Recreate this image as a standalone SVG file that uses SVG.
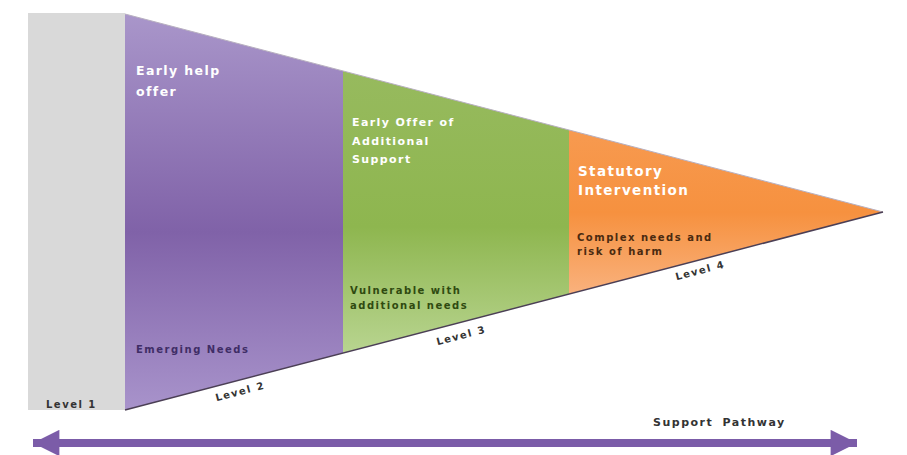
<svg xmlns="http://www.w3.org/2000/svg" width="907" height="455" viewBox="0 0 907 455">
<defs>
<linearGradient id="gP" gradientUnits="userSpaceOnUse" x1="0" y1="14" x2="0" y2="410">
<stop offset="0" stop-color="#a996ca"/><stop offset="0.55" stop-color="#8062a8"/><stop offset="1" stop-color="#a893cb"/>
</linearGradient>
<linearGradient id="gG" gradientUnits="userSpaceOnUse" x1="0" y1="70" x2="0" y2="355">
<stop offset="0" stop-color="#97ba5e"/><stop offset="0.55" stop-color="#8eb64f"/><stop offset="1" stop-color="#b9d591"/>
</linearGradient>
<linearGradient id="gO" gradientUnits="userSpaceOnUse" x1="0" y1="130" x2="0" y2="295">
<stop offset="0" stop-color="#f79a50"/><stop offset="0.5" stop-color="#f6913f"/><stop offset="1" stop-color="#f9b27e"/>
</linearGradient>
<marker id="ah" viewBox="0 0 10 10" refX="10" refY="5" markerWidth="4.2" markerHeight="3.3" orient="auto-start-reverse" markerUnits="strokeWidth">
<path d="M0,0 L10,5 L0,10 Z" fill="#7b5ca8"/>
</marker>
<style>
.w{font-family:"DejaVu Sans",Verdana,sans-serif;font-weight:bold;fill:#ffffff;letter-spacing:1.4px}
.d{font-family:"DejaVu Sans",Verdana,sans-serif;font-weight:bold;letter-spacing:1.5px}
</style>
</defs>
<rect width="907" height="455" fill="#ffffff"/>
<g id="level1">
<rect x="28" y="13" width="97" height="397" fill="#d9d9d9"/>
<text class="d" x="46" y="408" font-size="10" fill="#333333" letter-spacing="1.1">Level 1</text>
</g>
<g id="level2">
<polygon points="125,14 343,71 343,353 125,410" fill="url(#gP)"/>
<text class="w" x="136" y="75" font-size="12.5" letter-spacing="1.7">Early help</text>
<text class="w" x="136" y="96" font-size="12.5" letter-spacing="1.7">offer</text>
<text class="d" x="136" y="353" font-size="10" fill="#3f2d66">Emerging Needs</text>
<text class="d" x="240" y="395" font-size="10" fill="#333333" text-anchor="middle" transform="rotate(-14.6 240 391)">Level 2</text>
</g>
<g id="level3">
<polygon points="343,71 569,130 569,294 343,353" fill="url(#gG)"/>
<text class="w" x="352" y="126" font-size="11">Early Offer of</text>
<text class="w" x="352" y="145" font-size="11">Additional</text>
<text class="w" x="352" y="163" font-size="11">Support</text>
<text class="d" x="350" y="294" font-size="10" fill="#2f4a10" letter-spacing="1.6">Vulnerable with</text>
<text class="d" x="350" y="309" font-size="10" fill="#2f4a10" letter-spacing="1.6">additional needs</text>
<text class="d" x="461" y="339" font-size="10" fill="#333333" text-anchor="middle" transform="rotate(-14.6 461 335)">Level 3</text>
</g>
<g id="level4">
<polygon points="569,130 883,212 569,294" fill="url(#gO)"/>
<text class="w" x="578" y="176" font-size="13.5">Statutory</text>
<text class="w" x="578" y="195" font-size="13.5">Intervention</text>
<text class="d" x="577" y="241" font-size="10" fill="#4a2a10" letter-spacing="1.6">Complex needs and</text>
<text class="d" x="577" y="255" font-size="10" fill="#4a2a10" letter-spacing="1.6">risk of harm</text>
<text class="d" x="700" y="274" font-size="10" fill="#333333" text-anchor="middle" transform="rotate(-14.6 700 270)">Level 4</text>
</g>
<g id="connectors">
<line x1="125" y1="14" x2="883" y2="212" stroke="#b8b0c0" stroke-width="1"/>
<line x1="125" y1="410" x2="883" y2="212" stroke="#4b3f55" stroke-width="1.5"/>
<line x1="33" y1="443" x2="857" y2="443" stroke="#7b5ca8" stroke-width="8" marker-start="url(#ah)" marker-end="url(#ah)"/>
</g>
<g id="pathway">
<text class="d" x="653" y="426" font-size="11" fill="#333333" letter-spacing="1.6" word-spacing="4">Support Pathway</text>
</g>
</svg>
